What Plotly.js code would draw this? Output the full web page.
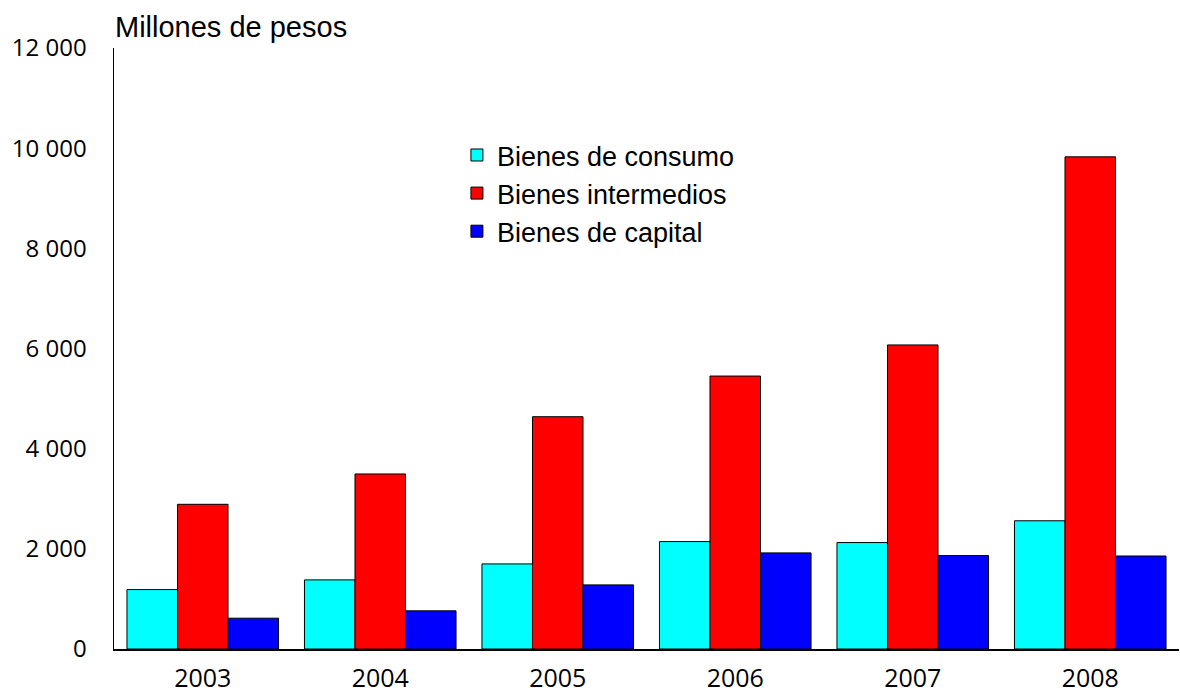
<!DOCTYPE html>
<html>
<head>
<meta charset="utf-8">
<script src="https://cdn.plot.ly/plotly-3.0.1.min.js"></script>
<style>html,body{margin:0;padding:0;background:#fff;}#chart{width:1180px;height:694px;}</style>
</head>
<body>
<div id="chart"></div>
<script>
var years = ['2003', '2004', '2005', '2006', '2007', '2008'];
var consumo = [1187, 1380, 1699, 2145, 2125, 2560];
var intermedios = [2889, 3495, 4638, 5450, 6071, 9827];
var capital = [615, 762, 1280, 1919, 1865, 1857];
var seriesNames = ['Bienes de consumo', 'Bienes intermedios', 'Bienes de capital'];
var seriesColors = ['#00ffff', '#ff0000', '#0000ff'];
var yTicks = [0, 2000, 4000, 6000, 8000, 10000, 12000];

var data = [consumo, intermedios, capital].map(function (vals, i) {
  return {
    type: 'bar',
    x: years,
    y: vals,
    name: seriesNames[i],
    marker: {color: seriesColors[i], line: {color: '#000', width: 1}}
  };
});

var layout = {
  width: 1180, height: 694,
  margin: {l: 113.5, r: 1, t: 48, b: 44.5},
  paper_bgcolor: '#fff', plot_bgcolor: '#fff',
  barmode: 'group', bargap: 0.146, bargroupgap: 0,
  separators: ', ',
  showlegend: true,
  legend: {
    x: 0.322, y: 0.862, xanchor: 'left', yanchor: 'top',
    font: {family: 'Liberation Sans, Arial, sans-serif', size: 27, color: '#000'},
    bgcolor: 'rgba(0,0,0,0)', tracegroupgap: 0, itemwidth: 30
  },
  xaxis: {
    type: 'category',
    showline: true, linecolor: '#000', linewidth: 1.5,
    showgrid: false, zeroline: false, ticks: '',
    ticklabelstandoff: 6,
    tickfont: {family: 'Open Sans, Noto Sans, sans-serif', size: 25, color: '#000'}
  },
  yaxis: {
    range: [0, 12000],
    tickvals: yTicks,
    separatethousands: true,
    tickformat: ',d',
    showline: true, linecolor: '#000', linewidth: 1.5,
    showgrid: false, zeroline: false, ticks: '',
    ticklabelstandoff: 21,
    tickfont: {family: 'Open Sans, Noto Sans, sans-serif', size: 24, color: '#000'}
  },
  annotations: [{
    text: 'Millones de pesos', xref: 'paper', yref: 'paper',
    x: 0, y: 1, xanchor: 'left', yanchor: 'bottom', yshift: 3, xshift: -1,
    showarrow: false,
    font: {family: 'Liberation Sans, Arial, sans-serif', size: 29, color: '#000'}
  }]
};

Plotly.newPlot('chart', data, layout, {displayModeBar: false, staticPlot: true});
</script>
</body>
</html>
